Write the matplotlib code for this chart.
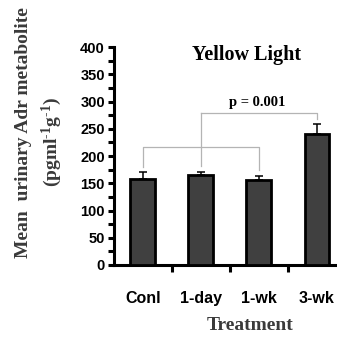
import matplotlib
matplotlib.use("Agg")
import matplotlib.pyplot as plt

# data
groups = ["Conl", "1-day", "1-wk", "3-wk"]
means = [157, 165, 156, 240]
sem = [13, 5, 7, 18]
y_ticks = [0, 50, 100, 150, 200, 250, 300, 350, 400]

serif = ["Liberation Serif", "DejaVu Serif"]
narrow = ["Liberation Sans Narrow", "Liberation Sans", "DejaVu Sans"]

plt.rcParams["mathtext.fontset"] = "custom"
plt.rcParams["mathtext.rm"] = "Liberation Serif:bold"
plt.rcParams["mathtext.bf"] = "Liberation Serif:bold"
plt.rcParams["mathtext.it"] = "Liberation Serif:bold"

fig = plt.figure(figsize=(3.37, 3.39), dpi=100)
ax = fig.add_axes([0.338, 0.2183, 0.662, 0.643])

x = list(range(len(groups)))
ax.bar(x, means, width=0.43, color="#404040", edgecolor="black", linewidth=2, zorder=3)
ax.errorbar(x, means, yerr=[[0] * len(sem), sem], fmt="none", ecolor="black",
            elinewidth=1.1, capsize=3, capthick=1.1, zorder=2)

# significance brackets
gray = "#b4b4b4"
lw = 0.9
ax.plot([0, 0, 2, 2], [180, 216, 216, 174], color=gray, lw=lw, zorder=1)
ax.plot([1, 1], [182, 279], color=gray, lw=lw, zorder=1)
ax.plot([1, 1, 3, 3], [279, 279, 279, 267], color=gray, lw=lw, zorder=1)
ax.text(1.97, 286, "p = 0.001", ha="center", va="bottom", family=serif,
        fontweight="bold", fontsize=10.5)

ax.text(1.78, 385, "Yellow Light", ha="center", va="center", family=serif,
        fontweight="bold", fontsize=14.5)

ax.set_ylim(0, 400)
ax.set_xlim(-0.5, 3.345)
ax.set_yticks(y_ticks)
ax.set_yticks(range(25, 400, 50), minor=True)
ax.set_xticks(x)
ax.set_xticks([0.5, 1.5, 2.5], minor=True)
ax.set_xticklabels(groups)
ax.tick_params(axis="x", which="major", length=0, pad=19)
ax.tick_params(axis="x", which="minor", length=5, width=2.2, direction="out")
ax.tick_params(axis="y", which="both", length=4.5, width=2.2, direction="out", pad=2)
for lab in ax.get_yticklabels():
    lab.set_family(narrow)
    lab.set_fontweight("bold")
    lab.set_fontsize(10.5)
for lab in ax.get_xticklabels():
    lab.set_family(narrow)
    lab.set_fontweight("bold")
    lab.set_fontsize(11.5)

for side in ["top", "right"]:
    ax.spines[side].set_visible(False)
for side in ["left", "bottom"]:
    ax.spines[side].set_linewidth(2.2)

fig.text(0.071, 0.608, "Mean  urinary Adr metabolite", rotation=90, ha="center",
         va="center", family=serif, fontweight="bold", fontsize=14, color="#3a3a3a")
fig.text(0.155, 0.581, r"(pgml$^{\text{-1}}$g$^{\text{-1}}$)", rotation=90, ha="center",
         va="center", family=serif, fontweight="bold", fontsize=14, color="#3a3a3a")
fig.text(0.742, 0.041, "Treatment", ha="center", va="center", family=serif,
         fontweight="bold", fontsize=14, color="#3a3a3a")

fig.savefig("out.png", dpi=100)
